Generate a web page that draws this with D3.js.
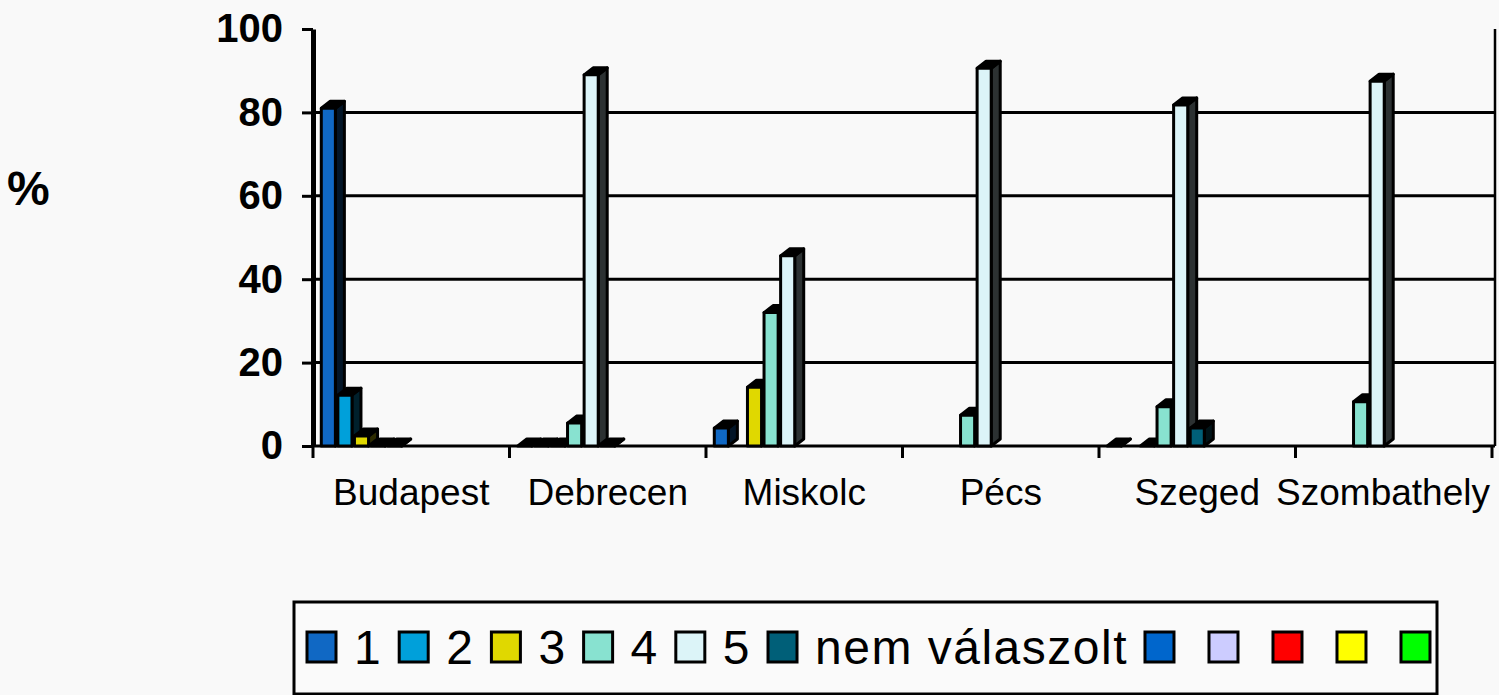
<!DOCTYPE html>
<html>
<head>
<meta charset="utf-8">
<script src="https://cdn.jsdelivr.net/npm/d3@7"></script>
<style>
	body { margin: 0; background: #f9f9f9; }
	svg { display: block; font-family: "Liberation Sans", Arial, sans-serif; }
</style>
</head>
<body>
<div id="chart"></div>
<script>
// városok (kategóriák)
var categories = ["Budapest", "Debrecen", "Miskolc", "Pécs", "Szeged", "Szombathely"];
// sorozatok nevei, az utolsó öt üres
var seriesNames = ["1", "2", "3", "4", "5", "nem válaszolt", "", "", "", "", ""];
var seriesColors = ["#1068c4", "#00a0da", "#e0d800", "#88e2d0", "#dcf4f8", "#005f78",
	"#0066cc", "#ccccff", "#ff0000", "#ffff00", "#00ff00"];
// értékek (%), null = nincs oszlop
var s1 = [81, 0, 4.3, null, 0, null];
var s2 = [12.2, 0, null, null, null, null];
var s3 = [2.4, 0, 14.1, null, 0, null];
var s4 = [0, 5.5, 32, 7.4, 9.4, 10.6];
var s5 = [0, 89, 45.6, 90.6, 81.8, 87.5];
var s6 = [null, 0, null, null, 4.3, null];
var seriesValues = [s1, s2, s3, s4, s5, s6, [], [], [], [], []];
var yTicks = [0, 20, 40, 60, 80, 100];

(function() {
	var width = 1499,
		height = 695,
		left = 313,
		right = 1492,
		top = 29,
		bottom = 446,
		//3D mélység
		depthX = 9,
		depthY = 7;

	var svg = d3.select("#chart").append("svg")
		.attr("width", width)
		.attr("height", height);

	//x: kategóriák
	var x = d3.scaleBand()
		.domain(categories)
		.range([left, right]);
	//sorozatok egy kategórián belül
	var xs = d3.scaleBand()
		.domain(d3.range(seriesNames.length))
		.range([0, x.bandwidth()])
		.paddingInner(0.15)
		.paddingOuter(0.5);
	var y = d3.scaleLinear()
		.domain([0, 100])
		.range([bottom, top]);

	//rácsvonalak
	svg.selectAll(".grid")
		.data(yTicks.filter(function(d) { return d > 0 && d < 100; }))
		.enter()
		.append("line")
		.attr("class", "grid")
		.attr("x1", left)
		.attr("x2", right + 2)
		.attr("y1", function(d) { return y(d); })
		.attr("y2", function(d) { return y(d); })
		.attr("stroke", "#000")
		.attr("stroke-width", 3);

	//jobb oldali fal
	svg.append("line")
		.attr("x1", right + 3).attr("x2", right + 3)
		.attr("y1", y(100)).attr("y2", y(0))
		.attr("stroke", "#000")
		.attr("stroke-width", 2.5);

	//x tengely
	svg.append("line")
		.attr("x1", left).attr("x2", right + 3)
		.attr("y1", y(0)).attr("y2", y(0))
		.attr("stroke", "#000")
		.attr("stroke-width", 3);
	var xEdges = categories.map(function(c) { return x(c); }).concat([x.range()[1]]);
	svg.selectAll(".xtick")
		.data(xEdges)
		.enter()
		.append("line")
		.attr("class", "xtick")
		.attr("x1", function(d) { return d; })
		.attr("x2", function(d) { return d; })
		.attr("y1", y(0))
		.attr("y2", y(0) + 12)
		.attr("stroke", "#000")
		.attr("stroke-width", 3);

	var xAxis = svg.append("g")
		.attr("transform", "translate(0," + y(0) + ")")
		.call(d3.axisBottom(x).tickSize(0).tickPadding(33));
	xAxis.select(".domain").remove();
	xAxis.selectAll("text")
		.attr("fill", "#000")
		.style("font-size", "37px")
		.style("font-family", "'Liberation Sans', Arial, sans-serif")
		.each(function() {
			//ne lógjon ki jobbra
			var t = d3.select(this),
				w = this.getComputedTextLength(),
				cx = x(t.datum()) + x.bandwidth() / 2;
			if (cx + w / 2 > right - 2) {
				t.attr("x", (right - 2 - w / 2) - cx);
			}
		});

	//oszlopok adatai
	var bars = [];
	categories.forEach(function(c, ci) {
		seriesValues.forEach(function(arr, si) {
			var v = arr[ci];
			if (v !== null && v !== undefined) {
				bars.push({ cat: c, s: si, v: v });
			}
		});
	});

	var bw = xs.bandwidth();
	var barG = svg.selectAll(".bar")
		.data(bars)
		.enter()
		.append("g")
		.attr("class", "bar")
		.attr("stroke", "#000")
		.attr("stroke-width", 3)
		.attr("stroke-linejoin", "round");

	//oldallap
	barG.append("path")
		.attr("d", function(d) {
			var x0 = x(d.cat) + xs(d.s),
				yt = y(d.v),
				yb = y(0);
			return "M" + (x0 + bw) + "," + yt +
				"L" + (x0 + bw + depthX) + "," + (yt - depthY) +
				"L" + (x0 + bw + depthX) + "," + (yb - depthY) +
				"L" + (x0 + bw) + "," + yb + "Z";
		})
		.attr("fill", function(d) {
			return d3.color(seriesColors[d.s]).darker(4.5);
		});
	//tető
	barG.append("path")
		.attr("d", function(d) {
			var x0 = x(d.cat) + xs(d.s),
				yt = y(d.v);
			return "M" + x0 + "," + yt +
				"L" + (x0 + depthX) + "," + (yt - depthY) +
				"L" + (x0 + bw + depthX) + "," + (yt - depthY) +
				"L" + (x0 + bw) + "," + yt + "Z";
		})
		.attr("fill", "#000");
	//előlap
	barG.append("rect")
		.attr("x", function(d) { return x(d.cat) + xs(d.s); })
		.attr("y", function(d) { return y(d.v); })
		.attr("width", bw)
		.attr("height", function(d) { return y(0) - y(d.v); })
		.attr("fill", function(d) { return seriesColors[d.s]; });

	//y tengely
	var yAxis = svg.append("g")
		.attr("transform", "translate(" + left + ",0)")
		.call(d3.axisLeft(y).tickValues(yTicks).tickSize(11).tickSizeOuter(0).tickPadding(19));
	yAxis.select(".domain").attr("stroke-width", 5);
	yAxis.selectAll(".tick line").attr("stroke-width", 3);
	yAxis.selectAll("text")
		.attr("fill", "#000")
		.style("font-size", "40px")
		.style("font-weight", "bold")
		.style("font-family", "'Liberation Sans', Arial, sans-serif");

	//tengelycím
	svg.append("text")
		.attr("x", 7)
		.attr("y", 205)
		.style("font-size", "48px")
		.style("font-weight", "bold")
		.text("%");

	//jelmagyarázat
	var legend = svg.append("g");
	legend.append("rect")
		.attr("x", 294)
		.attr("y", 602)
		.attr("width", 1143)
		.attr("height", 92)
		.attr("fill", "#fafafa")
		.attr("stroke", "#000")
		.attr("stroke-width", 3);
	var cx = 307;
	seriesNames.forEach(function(name, i) {
		legend.append("rect")
			.attr("x", cx)
			.attr("y", 632)
			.attr("width", 29)
			.attr("height", 30)
			.attr("fill", seriesColors[i])
			.attr("stroke", "#000")
			.attr("stroke-width", 3);
		var t = legend.append("text")
			.attr("x", cx + 47)
			.attr("y", 664)
			.style("font-size", "48px")
			.style("letter-spacing", "1.5px")
			.text(name);
		var w = name ? t.node().getComputedTextLength() : 0;
		cx = cx + 47 + w + 17;
	});
})();
</script>
</body>
</html>
